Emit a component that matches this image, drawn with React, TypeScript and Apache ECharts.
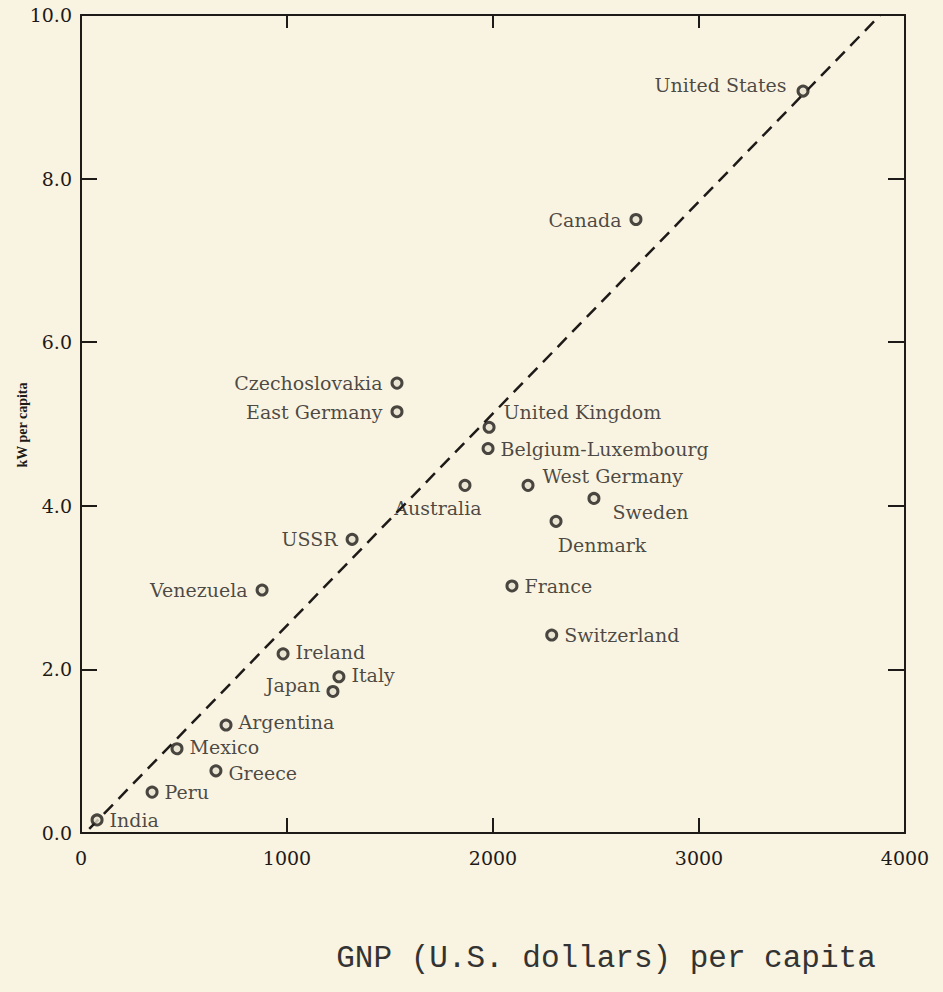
import React, { useEffect, useRef } from "react";
import * as echarts from "echarts";

const countries = [
  "United States", "Canada", "Czechoslovakia", "East Germany", "United Kingdom",
  "Belgium-Luxembourg", "Australia", "West Germany", "Sweden", "Denmark", "USSR",
  "Venezuela", "France", "Switzerland", "Ireland", "Italy", "Japan", "Argentina",
  "Mexico", "Greece", "Peru", "India",
];
const gnpPerCapita = [
  3505, 2694, 1534, 1534, 1981, 1976, 1864, 2170, 2490, 2306, 1316,
  879, 2092, 2285, 981, 1252, 1223, 704, 466, 655, 345, 78,
];
const kwPerCapita = [
  9.07, 7.5, 5.5, 5.15, 4.96, 4.7, 4.25, 4.25, 4.09, 3.81, 3.59,
  2.97, 3.02, 2.42, 2.19, 1.91, 1.73, 1.32, 1.03, 0.76, 0.5, 0.16,
];
const trendLine = [
  [40, 0.05],
  [3880, 10],
];
const xTicks = [0, 1000, 2000, 3000, 4000];
const yTicks = [0, 2, 4, 6, 8, 10];

const labelPlace: Record<string, { position: string; offset?: number[] }> = {
  "United States": { position: "left", offset: [-4, -6] },
  Canada: { position: "left", offset: [-2, 0] },
  Czechoslovakia: { position: "left", offset: [-2, 0] },
  "East Germany": { position: "left", offset: [-2, 0] },
  "United Kingdom": { position: "right", offset: [2, -15] },
  "Belgium-Luxembourg": { position: "right", offset: [0, 0] },
  Australia: { position: "bottom", offset: [-27, 1] },
  "West Germany": { position: "right", offset: [2, -9] },
  Sweden: { position: "right", offset: [6, 14] },
  Denmark: { position: "bottom", offset: [46, 2] },
  USSR: { position: "left", offset: [-2, 0] },
  Venezuela: { position: "left", offset: [-2, 0] },
  France: { position: "right", offset: [0, 0] },
  Switzerland: { position: "right", offset: [0, 0] },
  Ireland: { position: "right", offset: [0, -2] },
  Italy: { position: "right", offset: [0, -2] },
  Japan: { position: "left", offset: [0, -6] },
  Argentina: { position: "right", offset: [0, -3] },
  Mexico: { position: "right", offset: [0, -2] },
  Greece: { position: "right", offset: [0, 2] },
  Peru: { position: "right", offset: [0, 0] },
  India: { position: "right", offset: [0, 0] },
};

const INK = "#1e1a18";
const BG = "#f9f3e1";
const SERIF = "'DejaVu Serif', 'Liberation Serif', serif";

export default function App() {
  const ref = useRef<HTMLDivElement>(null);
  useEffect(() => {
    document.body.style.margin = "0";
    document.body.style.background = BG;
    const chart = echarts.init(ref.current!, null, { renderer: "svg" });
    const points = countries.map((name, i) => {
      const lp = labelPlace[name];
      return {
        name,
        value: [gnpPerCapita[i], kwPerCapita[i]],
        label: {
          show: true,
          formatter: name,
          position: lp.position as any,
          offset: lp.offset,
          distance: 6,
        },
      };
    });
    const mkLine = () => ({ show: true, onZero: false, lineStyle: { color: INK, width: 2 } });
    const mkTick = (len: number) => ({
      show: true,
      inside: true,
      length: len,
      lineStyle: { color: INK, width: 2 },
    });
    chart.setOption({
      animation: false,
      backgroundColor: BG,
      grid: { left: 81, right: 38, top: 15, bottom: 159, containLabel: false },
      xAxis: [
        {
          type: "value",
          min: xTicks[0],
          max: xTicks[xTicks.length - 1],
          interval: 1000,
          position: "bottom",
          axisLine: mkLine(),
          axisTick: mkTick(15),
          axisLabel: {
            color: INK,
            fontFamily: SERIF,
            fontSize: 19,
            margin: 15,
            formatter: (v: number) => String(v),
          },
          splitLine: { show: false },
        },
        {
          type: "value",
          min: xTicks[0],
          max: xTicks[xTicks.length - 1],
          interval: 1000,
          position: "top",
          axisLine: mkLine(),
          axisTick: mkTick(13),
          axisLabel: { show: false },
          splitLine: { show: false },
        },
      ],
      yAxis: [
        {
          type: "value",
          min: yTicks[0],
          max: yTicks[yTicks.length - 1],
          interval: 2,
          position: "left",
          axisLine: mkLine(),
          axisTick: mkTick(16),
          axisLabel: {
            color: INK,
            fontFamily: SERIF,
            fontSize: 19,
            margin: 9,
            formatter: (v: number) => v.toFixed(1),
          },
          splitLine: { show: false },
        },
        {
          type: "value",
          min: yTicks[0],
          max: yTicks[yTicks.length - 1],
          interval: 2,
          position: "right",
          axisLine: mkLine(),
          axisTick: mkTick(17),
          axisLabel: { show: false },
          splitLine: { show: false },
        },
      ],
      series: [
        {
          type: "line",
          data: trendLine,
          xAxisIndex: 0,
          yAxisIndex: 0,
          symbol: "none",
          lineStyle: { color: INK, width: 2.5, type: [13, 8] },
          z: 1,
        },
        {
          type: "scatter",
          data: points,
          xAxisIndex: 0,
          yAxisIndex: 0,
          symbol: "circle",
          symbolSize: 10,
          itemStyle: { color: "#e6e0d0", borderColor: INK, borderWidth: 3 },
          label: { color: INK, fontFamily: SERIF, fontSize: 19 },
          z: 3,
        },
      ],
      graphic: [
        {
          type: "text",
          x: 22,
          y: 425,
          rotation: Math.PI / 2,
          style: {
            text: "kW per capita",
            fill: INK,
            font: "bold 14px 'Liberation Serif', serif",
            align: "center",
            verticalAlign: "middle",
          },
        },
        {
          type: "text",
          x: 606,
          y: 958,
          style: {
            text: "GNP (U.S. dollars) per capita",
            fill: "#333",
            font: "31px 'Liberation Mono', 'DejaVu Sans Mono', monospace",
            align: "center",
            verticalAlign: "middle",
          },
        },
      ],
    });
    return () => chart.dispose();
  }, []);
  return (
    <div
      ref={ref}
      style={{ position: "fixed", left: 0, top: 0, width: 943, height: 992, background: BG }}
    />
  );
}
